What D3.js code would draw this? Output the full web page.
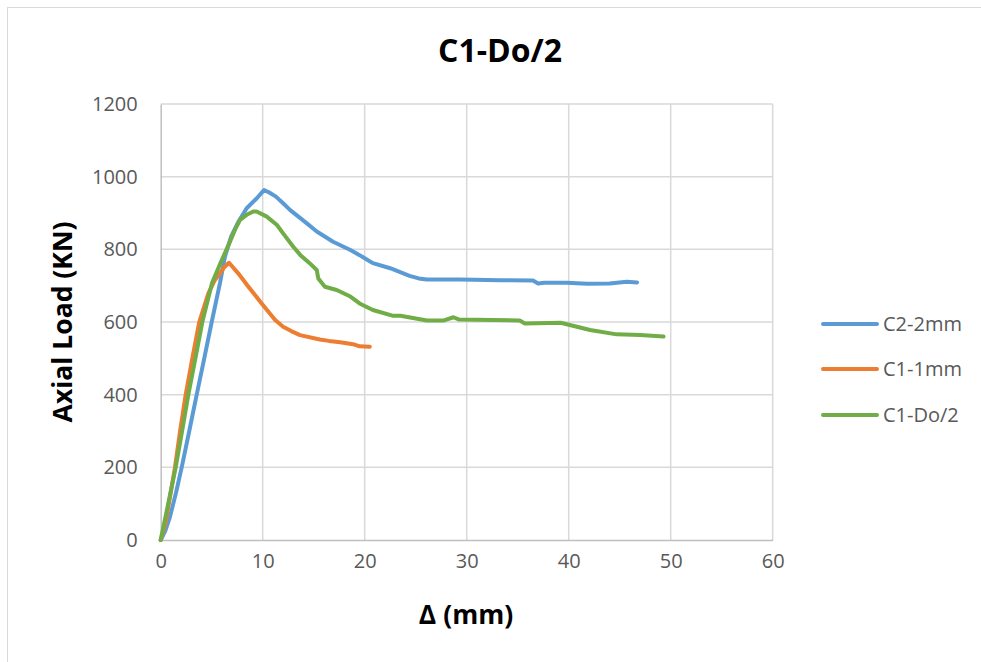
<!DOCTYPE html>
<html>
<head>
<meta charset="utf-8">
<script src="https://cdn.jsdelivr.net/npm/d3@7"></script>
<style>
  body { margin: 0; background: #fff; }
  svg { display: block; }
</style>
</head>
<body>
<svg id="chart" width="981" height="662"></svg>
<script>
"use strict";
// values: [deformation (mm), load (kN)]
var seriesNames = ["C2-2mm", "C1-1mm", "C1-Do/2"];
var seriesColors = ["#5B9BD5", "#ED7D31", "#70AD47"];

var c2_2mm = [
  [0, 0], [0.45, 25], [0.91, 64], [1.5, 130], [2.06, 200], [2.8, 300], [3.53, 400],
  [4.27, 500], [5.0, 600], [5.81, 707], [6.3, 780], [6.9, 835], [7.6, 875],
  [8.43, 913], [8.75, 922], [9.4, 940], [10.13, 963], [10.6, 957], [11.3, 945],
  [12.0, 927], [12.7, 908], [13.5, 890], [14.3, 872], [15.3, 849], [16.9, 821],
  [18.6, 798], [19.5, 784], [20.2, 772], [20.8, 762], [22.5, 748], [24.4, 727],
  [25.3, 720], [26.1, 717], [28.4, 717], [29.3, 717], [33.3, 715], [36.5, 714],
  [37.0, 706], [37.6, 708], [39.8, 708], [41.8, 705], [44.0, 706], [45.7, 711],
  [46.7, 709]
];
var c1_1mm = [
  [0, 0], [0.5, 50], [1.4, 200], [1.9, 300], [2.45, 400], [3.1, 500], [3.78, 600],
  [4.67, 679], [5.3, 715], [5.81, 734], [6.2, 750], [6.7, 763], [7.6, 734],
  [8.6, 697], [9.9, 651], [11.2, 606], [12.0, 587], [12.8, 575], [13.66, 564],
  [15.6, 552], [16.5, 548], [17.6, 544], [19.0, 538], [19.5, 533], [20.5, 532]
];
var c1_do2 = [
  [0, 0], [0.7, 95], [1.47, 200], [2.1, 300], [2.71, 400], [3.4, 500], [4.08, 600],
  [5.03, 707], [5.9, 765], [6.7, 815], [7.3, 855], [7.78, 881], [8.43, 895],
  [9.08, 904], [9.4, 904], [10.4, 890], [11.4, 867], [12.0, 844], [13.0, 807],
  [13.7, 784], [14.6, 762], [15.3, 743], [15.45, 720], [16.1, 697], [17.25, 688],
  [18.6, 670], [19.5, 651], [20.8, 633], [22.8, 617], [23.5, 617], [26.1, 604],
  [27.7, 604], [28.7, 613], [29.2, 607], [35.2, 604], [35.7, 596], [39.2, 598],
  [42.1, 578], [44.7, 566], [47.0, 564], [49.3, 560]
];
var seriesData = [c2_2mm, c1_1mm, c1_do2];

var xTicks = [0, 10, 20, 30, 40, 50, 60];
var yTicks = [0, 200, 400, 600, 800, 1000, 1200];

var svg = d3.select("#chart");
var plot = { left: 160.7, right: 772.7, top: 104, bottom: 540 };

var x = d3.scaleLinear().domain([0, 60]).range([plot.left, plot.right]);
var y = d3.scaleLinear().domain([0, 1200]).range([plot.bottom, plot.top]);

// chart frame
svg.append("rect")
  .attr("x", 7.5).attr("y", 7.5)
  .attr("width", 1000).attr("height", 700)
  .attr("fill", "#fff")
  .attr("stroke", "#d9d9d9");

// gridlines
svg.append("g").selectAll("line").data(yTicks.slice(1)).join("line")
  .attr("x1", plot.left).attr("x2", plot.right)
  .attr("y1", function (d) { return y(d); }).attr("y2", function (d) { return y(d); })
  .attr("stroke", "#d9d9d9").attr("stroke-width", 1.5);
svg.append("g").selectAll("line").data(xTicks.slice(1)).join("line")
  .attr("y1", plot.top).attr("y2", plot.bottom)
  .attr("x1", function (d) { return x(d); }).attr("x2", function (d) { return x(d); })
  .attr("stroke", "#d9d9d9").attr("stroke-width", 1.5);

// axes
var xAxis = svg.append("g")
  .attr("transform", "translate(0," + plot.bottom + ")")
  .call(d3.axisBottom(x).tickValues(xTicks).tickFormat(d3.format("d")).tickSize(0).tickPadding(14));
var yAxis = svg.append("g")
  .attr("transform", "translate(" + plot.left + ",0)")
  .call(d3.axisLeft(y).tickValues(yTicks).tickFormat(d3.format("d")).tickSize(0).tickPadding(23));
[xAxis, yAxis].forEach(function (a) {
  a.select(".domain").attr("stroke", "#bfbfbf").attr("stroke-width", 1.5);
  a.selectAll("text")
    .attr("fill", "#595959")
    .style("font-family", "'Open Sans', sans-serif")
    .style("font-size", "20px");
});

// series lines
var line = d3.line()
  .x(function (d) { return x(d[0]); })
  .y(function (d) { return y(d[1]); });

seriesData.forEach(function (s, i) {
  svg.append("path")
    .datum(s)
    .attr("d", line)
    .attr("fill", "none")
    .attr("stroke", seriesColors[i])
    .attr("stroke-width", 4)
    .attr("stroke-linejoin", "round")
    .attr("stroke-linecap", "round");
});

// title + axis titles
svg.append("text")
  .attr("x", 500).attr("y", 62)
  .attr("text-anchor", "middle")
  .style("font-family", "'Open Sans', sans-serif")
  .style("font-weight", "bold")
  .style("font-size", "32px")
  .text("C1-Do/2");

svg.append("text")
  .attr("transform", "translate(72,322) rotate(-90)")
  .attr("text-anchor", "middle")
  .style("font-family", "'Open Sans', sans-serif")
  .style("font-weight", "bold")
  .style("font-size", "26.5px")
  .text("Axial Load (KN)");

svg.append("text")
  .attr("x", 466).attr("y", 624)
  .attr("text-anchor", "middle")
  .style("font-family", "'Open Sans', sans-serif")
  .style("font-weight", "bold")
  .style("font-size", "26.5px")
  .text("Δ (mm)");

// legend
var legendY = [324, 369, 415];
var legend = svg.append("g").selectAll("g").data(seriesNames).join("g")
  .attr("transform", function (d, i) { return "translate(823," + legendY[i] + ")"; });
legend.append("line")
  .attr("x1", 0).attr("x2", 54)
  .attr("stroke", function (d, i) { return seriesColors[i]; })
  .attr("stroke-width", 4)
  .attr("stroke-linecap", "round");
legend.append("text")
  .attr("x", 60).attr("dy", "0.35em")
  .attr("fill", "#595959")
  .style("font-family", "'Open Sans', sans-serif")
  .style("font-size", "20px")
  .text(function (d) { return d; });
</script>
</body>
</html>
